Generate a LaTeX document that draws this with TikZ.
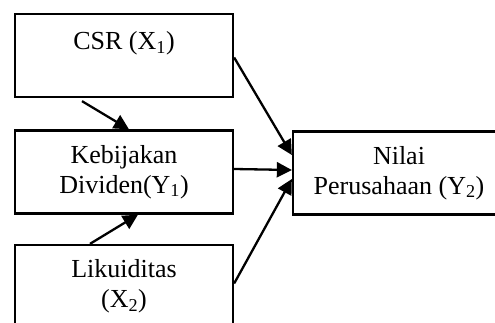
\documentclass[tikz,border=0pt]{standalone}
\usepackage{fontspec}
\setmainfont{Liberation Serif}
\usetikzlibrary{arrows.meta}
\tikzset{every picture/.style={line width=2.3pt}}
\tikzset{varbox/.style={draw,rectangle,align=center,inner sep=0pt,minimum width=218pt,minimum height=83pt,
    font=\fontsize{26}{30}\selectfont},
  link/.style={-{Triangle[length=15pt,width=15pt]}}}

\begin{document}
\begin{tikzpicture}[x=1pt,y=-1pt]
                      \useasboundingbox (0,0) rectangle (495,323);
                      \node[varbox] (csr) at (124,55.5) {CSR (X\textsubscript{1})\\ ~};
                      \node[varbox] (keb) at (124,172) {Kebijakan\\ Dividen(Y\textsubscript{1})};
                      \node[varbox] (liq) at (124,286.5) {Likuiditas\\ (X\textsubscript{2})};
                      \node[varbox,minimum width=212pt] (nilai) at (399,173) {Nilai\\ Perusahaan (Y\textsubscript{2})};
                      \draw[link] ([xshift=-42pt,yshift=-3pt]csr.south) -- ([xshift=5pt]keb.north);
                      \draw[link] ([xshift=-34pt]liq.north) -- ([xshift=14pt]keb.south);
                      \draw[link] ([yshift=-2pt]csr.east) -- ([yshift=18pt]nilai.west);
                      \draw[link] ([yshift=3pt]keb.east) -- ([yshift=3pt]nilai.west);
                      \draw[link] ([yshift=3pt]liq.east) -- ([yshift=-6pt]nilai.west);
                  \end{tikzpicture}
\end{document}
